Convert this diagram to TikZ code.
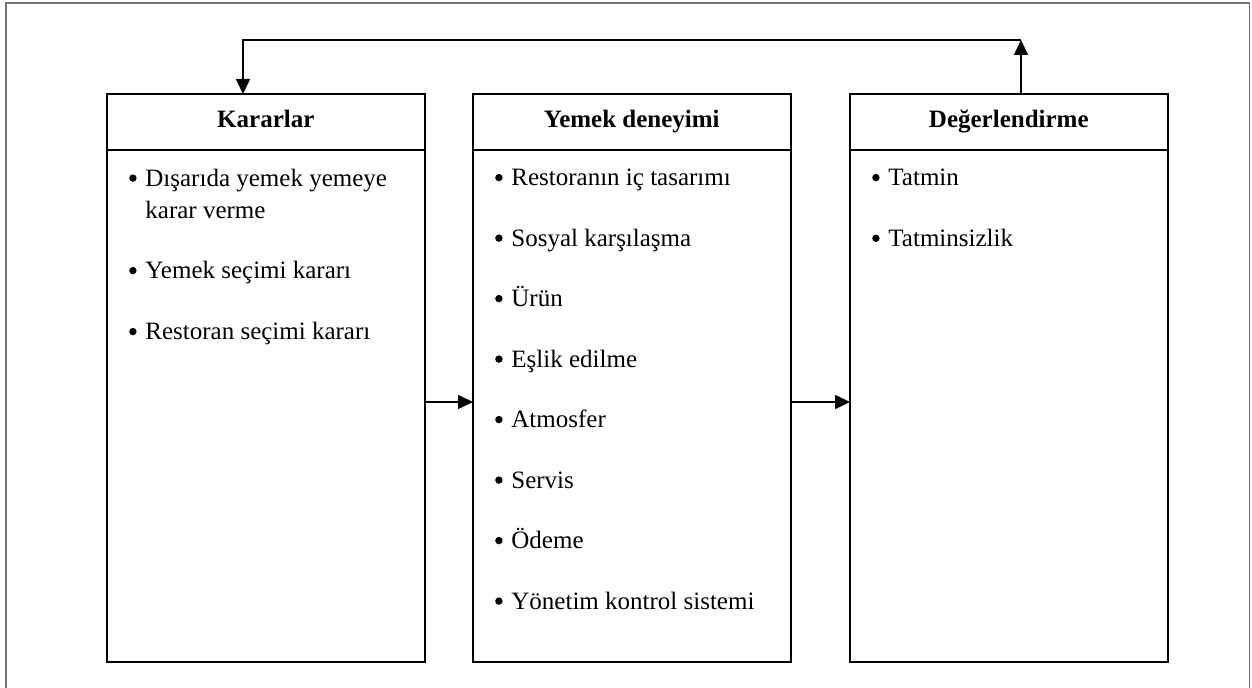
\documentclass[tikz,border=0pt]{standalone}
\usepackage{fontspec}
\setmainfont{Liberation Serif}
\usetikzlibrary{arrows.meta,calc}
\newcommand\myblt{\llap{\tikz[x=1cm,y=1cm,baseline=-4.2pt]\fill (0,0) circle (1.85pt);\hspace{4.4pt}}}
\begin{document}
\begin{tikzpicture}[x=0.5pt,y=-0.5pt,
  box/.style={draw,line width=1pt,minimum width=158.8pt,minimum height=284pt,anchor=north west,inner sep=0pt,outer sep=0pt},
  sep/.style={line width=1pt},
  head/.style={font=\fontsize{12.5}{15}\selectfont\bfseries,anchor=base,inner sep=0pt},
  item/.style={font=\fontsize{12.5}{15}\selectfont,anchor=base west,inner sep=0pt},
  conn/.style={line width=0.8pt,-{Triangle[length=7.5pt,width=7pt]}},
  frame/.style={draw=black!55,line width=0.8pt}]
\useasboundingbox (0,0) rectangle (1252,688);
\draw[frame] (6,688) -- (6,3) -- (1249.5,3) -- (1249.5,688);

\node[box] (k) at (107,94) {};
\node[box] (y) at (473,94) {};
\node[box] (d) at (850,94) {};

\draw[sep] ($(k.north west)+(0,56)$) -- ($(k.north east)+(0,56)$);
\draw[sep] ($(y.north west)+(0,56)$) -- ($(y.north east)+(0,56)$);
\draw[sep] ($(d.north west)+(0,56)$) -- ($(d.north east)+(0,56)$);

\node[head] (kh) at ($(k.north)+(0,34)$) {Kararlar};
\node[head] (yh) at ($(y.north)+(0,34)$) {Yemek deneyimi};
\node[head] (dh) at ($(d.north)+(0,34)$) {Değerlendirme};

\node[item] (k1) at ($(k.north west)+(38,92.5)$) {\myblt Dışarıda yemek yemeye};
\node[item] (k1b) at ($(k.north west)+(38,125)$) {karar verme};
\node[item] (k2) at ($(k.north west)+(38,185)$) {\myblt Yemek seçimi kararı};
\node[item] (k3) at ($(k.north west)+(38,246)$) {\myblt Restoran seçimi kararı};

\node[item] (y1) at ($(y.north west)+(38,92)$) {\myblt Restoranın iç tasarımı};
\node[item] (y2) at ($(y.north west)+(38,152.5)$) {\myblt Sosyal karşılaşma};
\node[item] (y3) at ($(y.north west)+(38,213)$) {\myblt Ürün};
\node[item] (y4) at ($(y.north west)+(38,273.5)$) {\myblt Eşlik edilme};
\node[item] (y5) at ($(y.north west)+(38,334)$) {\myblt Atmosfer};
\node[item] (y6) at ($(y.north west)+(38,394.5)$) {\myblt Servis};
\node[item] (y7) at ($(y.north west)+(38,455)$) {\myblt Ödeme};
\node[item] (y8) at ($(y.north west)+(38,515.5)$) {\myblt Yönetim kontrol sistemi};

\node[item] (d1) at ($(d.north west)+(38,92)$) {\myblt Tatmin};
\node[item] (d2) at ($(d.north west)+(38,152.7)$) {\myblt Tatminsizlik};

\coordinate (row) at (0,402);
\coordinate (topL) at (243,40);
\coordinate (topR) at (1021,40);

\draw[conn] (k.east |- row) -- (y.west |- row);
\draw[conn] (y.east |- row) -- (d.west |- row);
\draw[conn] (d.north -| topR) -- (topR);
\draw[conn] (topR) -- (topL) -- (k.north -| topL);
\end{tikzpicture}
\end{document}
